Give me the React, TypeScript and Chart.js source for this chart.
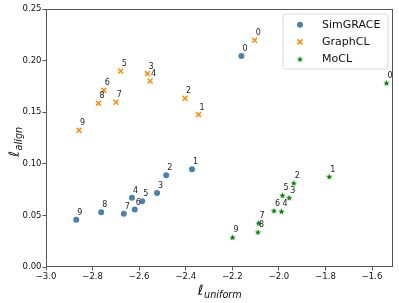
import React, { useEffect, useRef } from "react";
import { Chart, registerables } from "chart.js";

Chart.register(...registerables);

const pointIds = ["0", "1", "2", "3", "4", "5", "6", "7", "8", "9"];

const simX = [-2.161, -2.373, -2.484, -2.523, -2.631, -2.587, -2.619, -2.666, -2.763, -2.870];
const simY = [0.2045, 0.0947, 0.0889, 0.0717, 0.0672, 0.0637, 0.0556, 0.0517, 0.0530, 0.0459];

const gclX = [-2.104, -2.345, -2.403, -2.564, -2.553, -2.679, -2.752, -2.700, -2.775, -2.858];
const gclY = [0.2197, 0.1477, 0.1635, 0.1874, 0.1802, 0.1899, 0.1712, 0.1596, 0.1586, 0.1325];

const mocX = [-1.538, -1.784, -1.936, -1.956, -1.989, -1.985, -2.021, -2.087, -2.090, -2.199];
const mocY = [0.1783, 0.0876, 0.0814, 0.0672, 0.0540, 0.0695, 0.0546, 0.0426, 0.0339, 0.0288];

const seriesNames = ["SimGRACE", "GraphCL", "MoCL"];
const xTicks = [-3.0, -2.8, -2.6, -2.4, -2.2, -2.0, -1.8, -1.6];
const yTicks = [0.0, 0.05, 0.1, 0.15, 0.2, 0.25];
const xRange = [-3.0, -1.51];
const yRange = [0.0, 0.25];

const BLUE = "#4682b4";
const ORANGE = "#ff8c00";
const GREEN = "#008000";

function makeStar(color: string, r: number): HTMLCanvasElement {
  const size = Math.ceil(r * 2 + 2);
  const c = document.createElement("canvas");
  c.width = size;
  c.height = size;
  const ctx = c.getContext("2d")!;
  const cx = size / 2;
  const cy = size / 2 + 0.3;
  const inner = r * 0.42;
  ctx.beginPath();
  for (let i = 0; i < 10; i++) {
    const rad = i % 2 === 0 ? r : inner;
    const a = -Math.PI / 2 + (i * Math.PI) / 5;
    const px = cx + rad * Math.cos(a);
    const py = cy + rad * Math.sin(a);
    if (i === 0) ctx.moveTo(px, py);
    else ctx.lineTo(px, py);
  }
  ctx.closePath();
  ctx.fillStyle = color;
  ctx.fill();
  return c;
}

function drawMarker(ctx: CanvasRenderingContext2D, kind: number, x: number, y: number, star: HTMLCanvasElement) {
  ctx.save();
  if (kind === 0) {
    ctx.beginPath();
    ctx.arc(x, y, 3, 0, Math.PI * 2);
    ctx.fillStyle = BLUE;
    ctx.fill();
  } else if (kind === 1) {
    const d = 2.5;
    ctx.beginPath();
    ctx.moveTo(x - d, y - d);
    ctx.lineTo(x + d, y + d);
    ctx.moveTo(x - d, y + d);
    ctx.lineTo(x + d, y - d);
    ctx.strokeStyle = ORANGE;
    ctx.lineWidth = 1.5;
    ctx.stroke();
  } else {
    ctx.drawImage(star, x - star.width / 2, y - star.height / 2);
  }
  ctx.restore();
}

export default function App() {
  const ref = useRef<HTMLCanvasElement | null>(null);

  useEffect(() => {
    if (!ref.current) return;
    const star = makeStar(GREEN, 3.4);

    const toPts = (xs: number[], ys: number[]) => xs.map((x, i) => ({ x, y: ys[i] }));

    const overlay = {
      id: "overlay",
      afterDatasetsDraw(chart: any) {
        const ctx: CanvasRenderingContext2D = chart.ctx;
        const a = chart.chartArea;
        ctx.save();
        // point index labels
        ctx.font = "8px 'DejaVu Sans'";
        ctx.fillStyle = "#222";
        ctx.textAlign = "left";
        ctx.textBaseline = "alphabetic";
        chart.data.datasets.forEach((ds: any, di: number) => {
          const meta = chart.getDatasetMeta(di);
          meta.data.forEach((el: any, i: number) => {
            ctx.fillText(pointIds[i], el.x + 1, el.y - 5);
          });
        });
        // frame
        ctx.strokeStyle = "#555";
        ctx.lineWidth = 1;
        ctx.strokeRect(Math.round(a.left) + 0.5, Math.round(a.top) + 0.5, Math.round(a.right - a.left) - 1, Math.round(a.bottom - a.top) - 1);

        // legend
        const lx = 283, ly = 14, lw = 105, lh = 55;
        ctx.beginPath();
        const rr = 3;
        ctx.moveTo(lx + rr, ly);
        ctx.arcTo(lx + lw, ly, lx + lw, ly + lh, rr);
        ctx.arcTo(lx + lw, ly + lh, lx, ly + lh, rr);
        ctx.arcTo(lx, ly + lh, lx, ly, rr);
        ctx.arcTo(lx, ly, lx + lw, ly, rr);
        ctx.closePath();
        ctx.fillStyle = "rgba(255,255,255,0.8)";
        ctx.fill();
        ctx.strokeStyle = "#d0d0d0";
        ctx.lineWidth = 0.8;
        ctx.stroke();
        ctx.font = "11px 'DejaVu Sans'";
        ctx.fillStyle = "#111";
        ctx.textBaseline = "middle";
        seriesNames.forEach((name, i) => {
          const yy = 24.7 + i * 17.2;
          drawMarker(ctx, i, 300, yy, star);
          ctx.fillText(name, 322, yy + 0.5);
        });

        // x title
        ctx.fillStyle = "#111";
        ctx.textBaseline = "alphabetic";
        const cxm = (a.left + a.right) / 2;
        ctx.font = "italic 14px 'DejaVu Sans'";
        const w1 = ctx.measureText("ℓ").width;
        ctx.font = "italic 9.7px 'DejaVu Sans'";
        const w2 = ctx.measureText("uniform").width;
        let sx = cxm - (w1 + w2) / 2;
        ctx.font = "italic 14px 'DejaVu Sans'";
        ctx.fillText("ℓ", sx, 295);
        ctx.font = "italic 9.7px 'DejaVu Sans'";
        ctx.fillText("uniform", sx + w1 + 0.5, 297.5);

        // y title
        ctx.save();
        const cym = (a.top + a.bottom) / 2 + 4;
        ctx.translate(19, cym);
        ctx.rotate(-Math.PI / 2);
        ctx.font = "italic 14px 'DejaVu Sans'";
        const v1 = ctx.measureText("ℓ").width;
        ctx.font = "italic 9.7px 'DejaVu Sans'";
        const v2 = ctx.measureText("align").width;
        const s0 = -(v1 + v2) / 2;
        ctx.font = "italic 14px 'DejaVu Sans'";
        ctx.fillText("ℓ", s0, 0);
        ctx.font = "italic 9.7px 'DejaVu Sans'";
        ctx.fillText("align", s0 + v1 + 0.5, 2.5);
        ctx.restore();

        ctx.restore();
      },
    };

    const chart = new Chart(ref.current, {
      type: "scatter",
      data: {
        datasets: [
          {
            label: seriesNames[0],
            data: toPts(simX, simY),
            pointStyle: "circle",
            pointRadius: 3,
            backgroundColor: BLUE,
            borderColor: BLUE,
            borderWidth: 0,
          },
          {
            label: seriesNames[1],
            data: toPts(gclX, gclY),
            pointStyle: "crossRot",
            pointRadius: 3.5,
            backgroundColor: ORANGE,
            borderColor: ORANGE,
            borderWidth: 1.5,
          },
          {
            label: seriesNames[2],
            data: toPts(mocX, mocY),
            pointStyle: star as any,
            pointRadius: 3.5,
            backgroundColor: GREEN,
            borderColor: GREEN,
          },
        ],
      },
      options: {
        responsive: false,
        animation: false,
        events: [],
        layout: { padding: { top: 9, right: 6, left: 0, bottom: 0 } },
        plugins: {
          legend: { display: false },
          tooltip: { enabled: false },
        },
        scales: {
          x: {
            type: "linear",
            min: xRange[0],
            max: xRange[1],
            afterBuildTicks: (s: any) => {
              s.ticks = xTicks.map((v) => ({ value: v }));
            },
            afterFit: (s: any) => {
              s.height = 36;
            },
            grid: { display: true, drawOnChartArea: false, drawTicks: true, tickLength: 3.5, color: "#555", tickWidth: 1 },
            border: { display: false },
            ticks: {
              padding: 1.5,
              color: "#111",
              font: { family: "'DejaVu Sans'", size: 8.5 },
              maxRotation: 0,
              autoSkip: false,
              callback: (v: any) => (Number(v) < 0 ? "\u2212" : "") + Math.abs(Number(v)).toFixed(1),
            },
          },
          y: {
            type: "linear",
            min: yRange[0],
            max: yRange[1],
            afterBuildTicks: (s: any) => {
              s.ticks = yTicks.map((v) => ({ value: v }));
            },
            afterFit: (s: any) => {
              s.width = 46;
            },
            grid: { display: true, drawOnChartArea: false, drawTicks: true, tickLength: 3.5, color: "#555", tickWidth: 1 },
            border: { display: false },
            ticks: {
              padding: 1,
              color: "#111",
              font: { family: "'DejaVu Sans'", size: 8.5 },
              autoSkip: false,
              callback: (v: any) => Number(v).toFixed(2),
            },
          },
        },
      },
      plugins: [overlay],
    });
    return () => chart.destroy();
  }, []);

  return (
    <div style={{ position: "fixed", left: 0, top: 0, width: 399, height: 303, background: "#fff" }}>
      <canvas ref={ref} width={399} height={303} style={{ display: "block" }} />
    </div>
  );
}
